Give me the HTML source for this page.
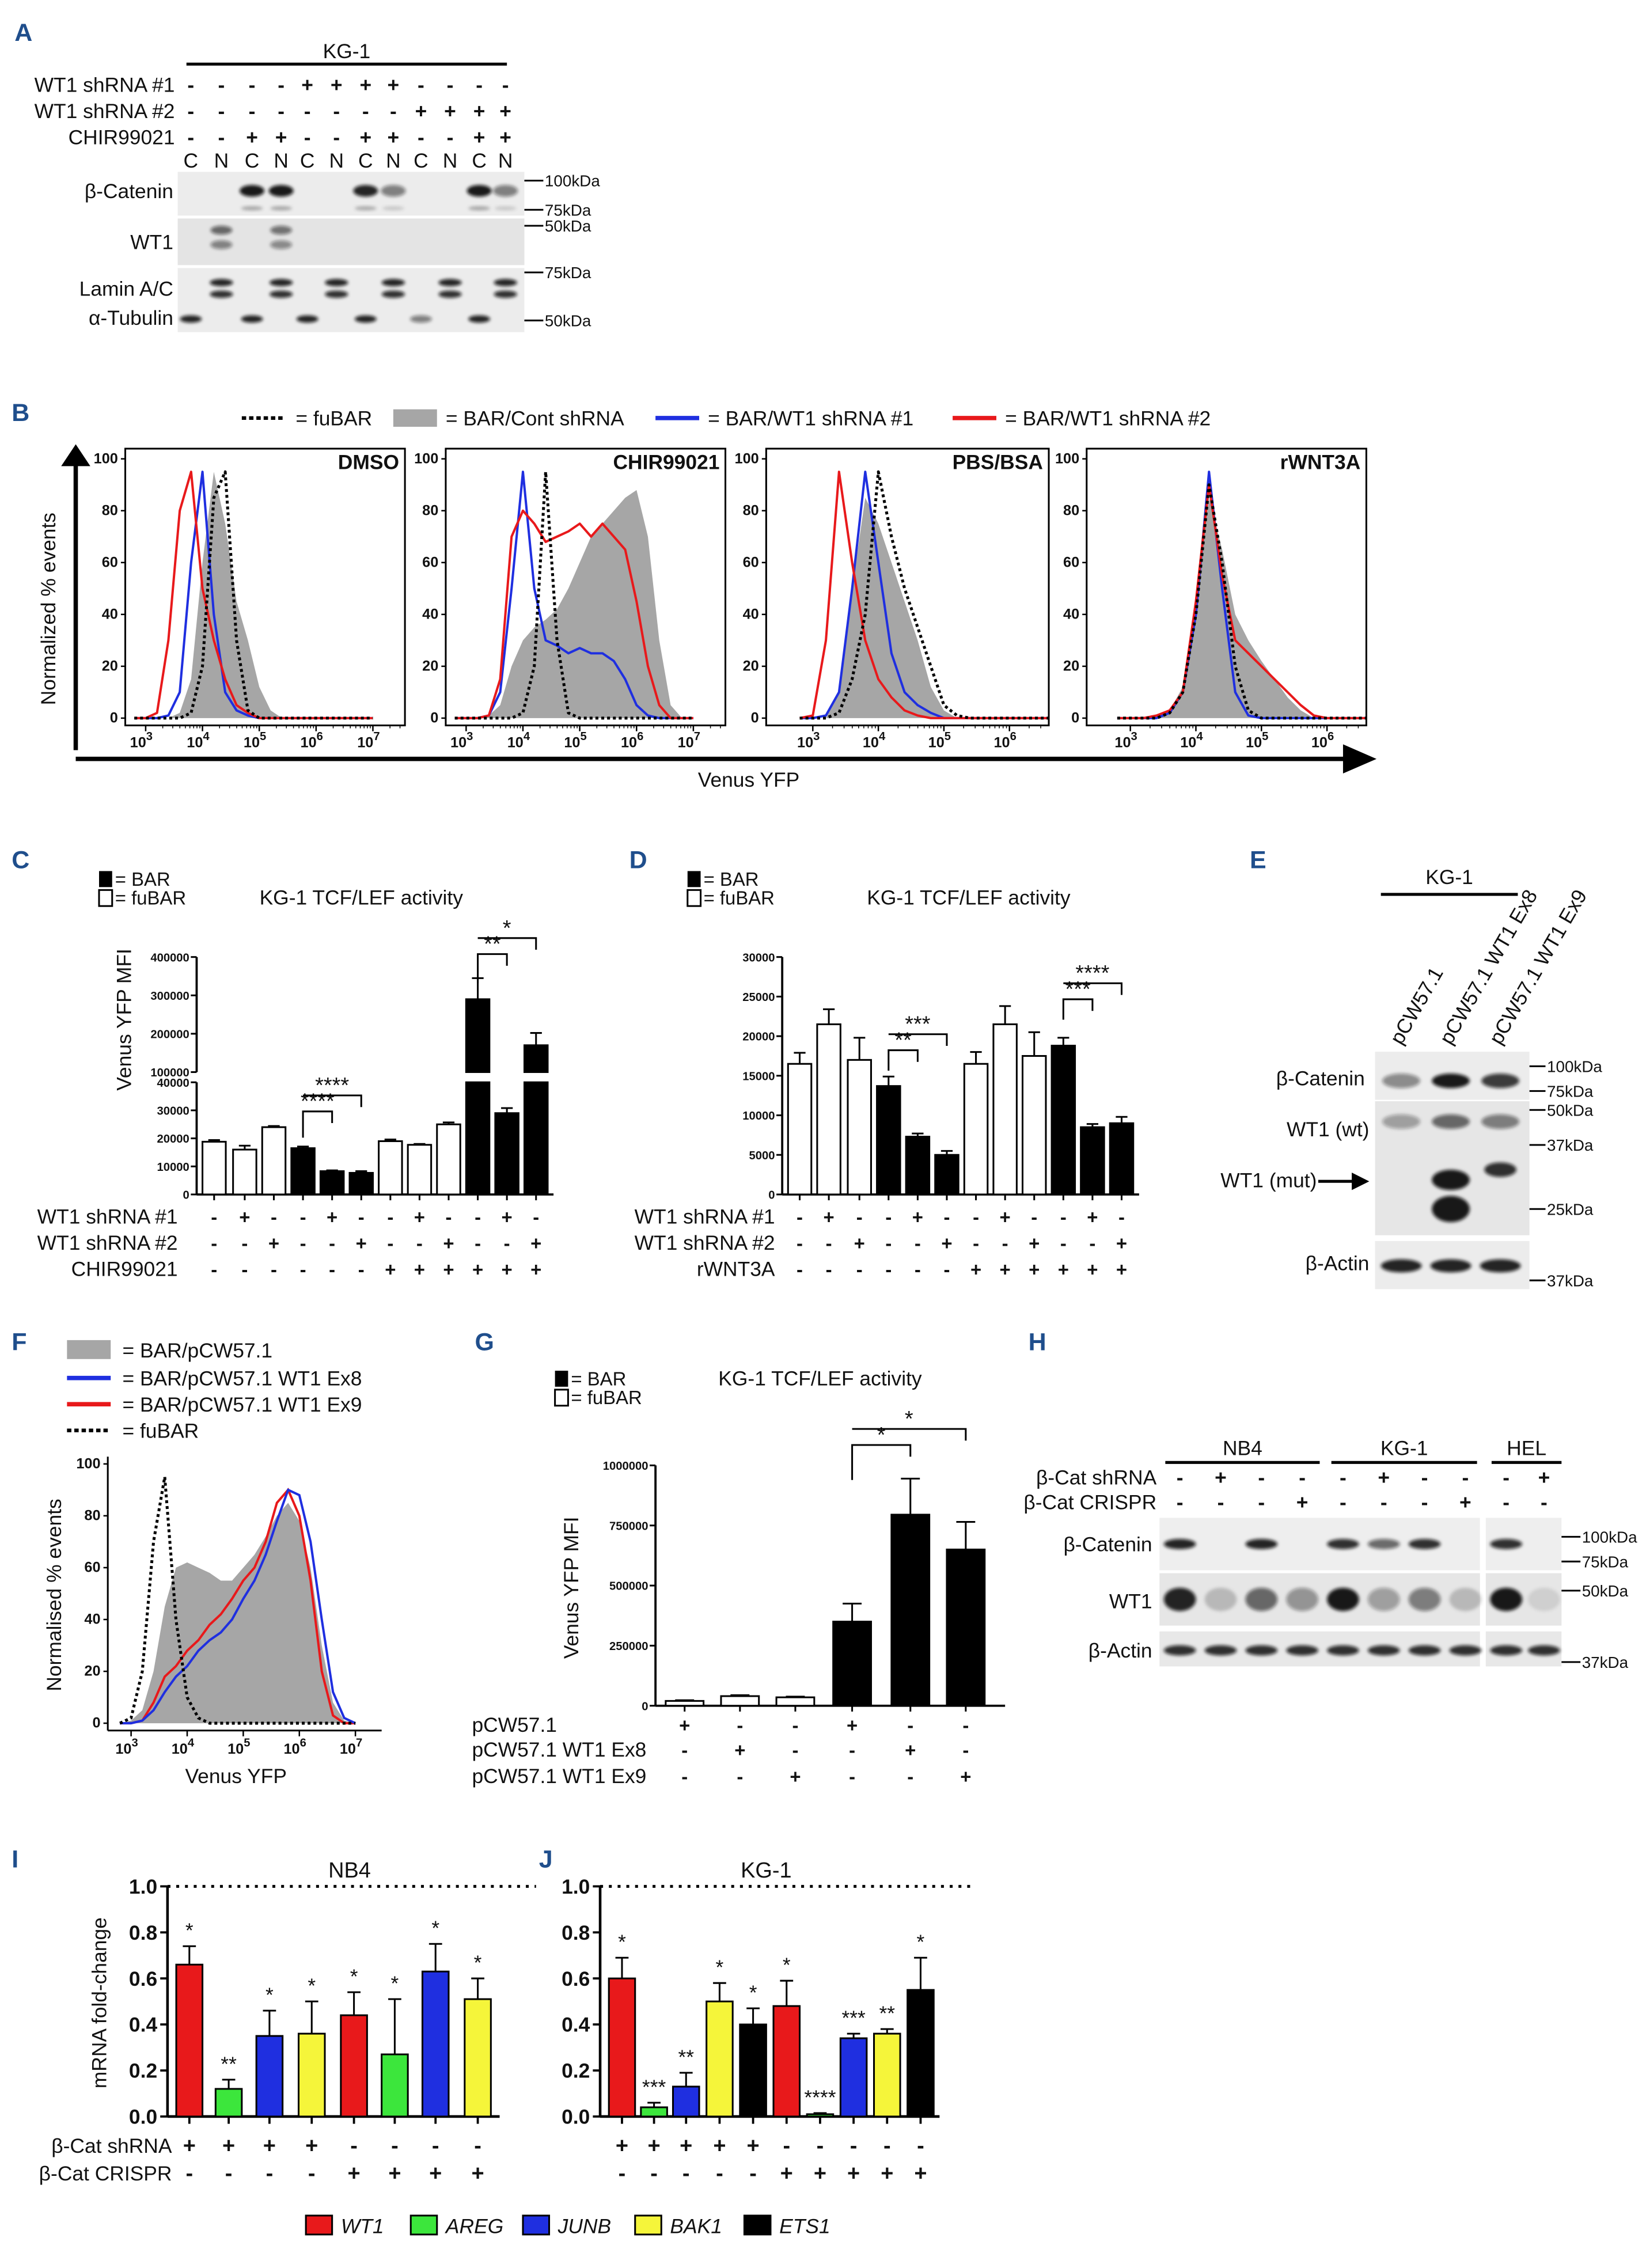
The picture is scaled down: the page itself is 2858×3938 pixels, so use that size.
<!DOCTYPE html>
<html><head><meta charset="utf-8"><style>
html,body{margin:0;padding:0;background:#fff}
svg{display:block}
text{font-family:"Liberation Sans",Arial,sans-serif;fill:#111}
.pl{font-weight:bold;fill:#1f4e8c;font-size:17px}
</style></head><body>
<svg id="fig" xmlns="http://www.w3.org/2000/svg" width="2858" height="3938" viewBox="0 0 1130 1557" preserveAspectRatio="none">
<g id="root"></g>
</svg>
<script>
// ---------- chart data ----------
const cLanesSign1 = ['-','+','-','-','+','-','-','+','-','-','+','-'];
const cLanesSign2 = ['-','-','+','-','-','+','-','-','+','-','-','+'];
const cChir = ['-','-','-','-','-','-','+','+','+','+','+','+'];
const cValues = [18800,16000,24000,16500,8300,7700,19000,17700,25000,290000,29000,170000];
const cErr = [600,1400,400,600,300,600,600,300,700,55000,1800,32000];
const cBlack = [0,0,0,1,1,1,0,0,0,1,1,1];
const cLowTicks = [0,10000,20000,30000,40000];
const cHighTicks = [100000,200000,300000,400000];

const dValues = [16500,21500,17000,13700,7300,5000,16500,21500,17500,18800,8500,9000];
const dErr = [1400,1900,2800,1200,400,500,1500,2300,3000,1000,400,800];
const dBlack = [0,0,0,1,1,1,0,0,0,1,1,1];
const dWnt = ['-','-','-','-','-','-','+','+','+','+','+','+'];
const dTicks = [0,5000,10000,15000,20000,25000,30000];

const gValues = [20000,40000,35000,350000,795000,650000];
const gErr = [3000,4000,3000,75000,150000,115000];
const gBlack = [0,0,0,1,1,1];
const gTicks = [0,250000,500000,750000,1000000];

const iValues = [0.66,0.12,0.35,0.36,0.44,0.27,0.63,0.51];
const iErr = [0.08,0.04,0.11,0.14,0.10,0.24,0.12,0.09];
const iGenes = ['WT1','AREG','JUNB','BAK1','WT1','AREG','JUNB','BAK1'];
const iStars = ['*','**','*','*','*','*','*','*'];
const jValues = [0.60,0.04,0.13,0.50,0.40,0.48,0.01,0.34,0.36,0.55];
const jErr = [0.09,0.02,0.06,0.08,0.07,0.11,0.005,0.02,0.02,0.14];
const jGenes = ['WT1','AREG','JUNB','BAK1','ETS1','WT1','AREG','JUNB','BAK1','ETS1'];
const jStars = ['*','***','**','*','*','*','****','***','**','*'];
const rTicks = [0,0.2,0.4,0.6,0.8,1.0];

// flow histograms: log10 grid and % values
const logGrid = [2.8,3.0,3.2,3.4,3.6,3.8,4.0,4.2,4.4,4.6,4.8,5.0,5.2,5.4,5.6,5.8,6.0,6.2,6.4,6.6,6.8,7.0];
const dmsoFu   = [0,0,0,0,0,2,20,85,95,30,3,0,0,0,0,0,0,0,0,0,0,0];
const dmsoGray = [0,0,0,0,2,15,60,95,75,45,30,12,3,0,0,0,0,0,0,0,0,0];
const dmsoBlue = [0,0,0,1,10,60,95,40,10,3,1,0,0,0,0,0,0,0,0,0,0,0];
const dmsoRed  = [0,0,2,30,80,95,50,30,15,5,2,0,0,0,0,0,0,0,0,0,0,0];
const chirFu   = [0,0,0,0,0,0,2,20,95,30,2,0,0,0,0,0,0,0,0,0,0,0];
const chirGray = [0,0,0,1,5,20,30,35,38,42,50,60,70,75,80,85,88,70,30,5,0,0];
const chirBlue = [0,0,0,1,10,50,95,50,30,28,25,27,25,25,22,15,5,1,0,0,0,0];
const chirRed  = [0,0,0,1,15,70,80,75,68,70,72,75,70,75,70,65,45,20,5,0,0,0];
const pbsFu    = [0,0,0,2,15,40,95,70,50,35,20,5,1,0,0,0,0,0,0,0,0,0];
const pbsGray  = [0,0,0,10,50,85,75,60,45,30,12,3,0,0,0,0,0,0,0,0,0,0];
const pbsBlue  = [0,0,1,10,50,95,60,25,10,5,2,0,0,0,0,0,0,0,0,0,0,0];
const pbsRed   = [0,1,30,95,60,30,15,8,3,1,0,0,0,0,0,0,0,0,0,0,0,0];
const wntFu    = [0,0,0,0,2,10,40,90,60,20,3,0,0,0,0,0,0,0,0,0,0,0];
const wntGray  = [0,0,0,1,3,12,45,85,65,40,30,22,15,8,3,0,0,0,0,0,0,0];
const wntBlue  = [0,0,0,0,2,10,40,95,50,10,1,0,0,0,0,0,0,0,0,0,0,0];
const wntRed   = [0,0,0,1,3,10,45,90,55,30,25,20,15,10,5,1,0,0,0,0,0,0];
const fFu   = [0,2,20,70,95,40,10,2,0,0,0,0,0,0,0,0,0,0,0,0,0,0];
const fGray = [0,1,5,20,45,60,62,60,58,55,55,60,65,72,80,85,78,60,30,8,1,0];
const fBlue = [0,0,1,5,12,18,22,28,32,35,40,48,55,65,78,90,88,70,40,12,2,0];
const fRed  = [0,0,1,8,18,22,28,32,38,42,48,55,60,70,85,90,80,55,20,3,0,0];

// ---------- helpers ----------
const NS='http://www.w3.org/2000/svg';
const root=document.getElementById('root');
function mk(tag, attrs, name, parent){
  const el=document.createElementNS(NS,tag);
  for(const k in attrs) el.setAttribute(k,attrs[k]);
  
  
  (parent||root).appendChild(el);
  return el;
}
function tx(x,y,s,size,name,opts){
  opts=opts||{};
  const a={x:x,y:y,'font-size':size};
  if(opts.anchor) a['text-anchor']=opts.anchor;
  if(opts.weight) a['font-weight']=opts.weight;
  if(opts.style) a['font-style']=opts.style;
  if(opts.fill) a['fill']=opts.fill;
  if(opts.rot!==undefined) a['transform']='rotate('+opts.rot+' '+x+' '+y+')';
  if(opts.cls) a['class']=opts.cls;
  const t=mk('text',a,name);
  t.textContent=s;
  return t;
}
function ln(x1,y1,x2,y2,name,w,col,dash){
  const a={x1:x1,y1:y1,x2:x2,y2:y2,stroke:col||'#000','stroke-width':w||1.2};
  if(dash) a['stroke-dasharray']=dash;
  return mk('line',a,name);
}
function rc(x,y,w,h,fill,name,stroke){
  const a={x:x,y:y,width:w,height:h,fill:fill};
  if(stroke){a.stroke=stroke;a['stroke-width']=1.2;}
  return mk('rect',a,name);
}
function band(cx,cy,w,h,op,name){
  return mk('ellipse',{cx:cx,cy:cy,rx:w/2,ry:h/2,fill:'#111','fill-opacity':op,filter:'url(#blur)'},name);
}
const defs=mk('defs',{},'defs');
const flt=mk('filter',{id:'blur',x:'-50%',y:'-50%',width:'200%',height:'200%'},'blur-filter',defs);
mk('feGaussianBlur',{stdDeviation:'1.2'},'blur',flt);

// ---------- Panel labels ----------
[['A',10,28],['B',8,289],['C',8,596],['D',432,596],['E',858,596],['F',8,927],['G',326,927],['H',706,927],['I',8,1282],['J',370,1282]].forEach(p=>{
  tx(p[1],p[2],p[0],18,'panel-label-'+p[0].toLowerCase(),{cls:'pl'});
});

// ---------- Panel A ----------
tx(238,40,'KG-1',14,'a-kg1-label',{anchor:'middle'});
ln(128,44,348,44,'a-kg1-line',2);
const aLx=[131,152,173,193,211,231,251,270,289,309,329,347];
const aS1=['-','-','-','-','+','+','+','+','-','-','-','-'];
const aS2=['-','-','-','-','-','-','-','-','+','+','+','+'];
const aCh=['-','-','+','+','-','-','+','+','-','-','+','+'];
tx(120,63,'WT1 shRNA #1',14,'a-row-shrna1',{anchor:'end'});
tx(120,81,'WT1 shRNA #2',14,'a-row-shrna2',{anchor:'end'});
tx(120,99,'CHIR99021',14,'a-row-chir',{anchor:'end'});
aLx.forEach((x,i)=>{
  tx(x,63,aS1[i],14,'a-sign',{anchor:'middle',weight:'bold'});
  tx(x,81,aS2[i],14,'a-sign',{anchor:'middle',weight:'bold'});
  tx(x,99,aCh[i],14,'a-sign',{anchor:'middle',weight:'bold'});
  tx(x,115,i%2?'N':'C',14,'a-fraction',{anchor:'middle'});
});
rc(122,118,238,30,'#ececec','a-blot-bcatenin');
rc(122,150,238,32,'#e4e4e4','a-blot-wt1');
rc(122,184,238,44,'#ececec','a-blot-lamin-tubulin');
tx(119,136,'β-Catenin',14,'a-label-bcat',{anchor:'end'});
tx(119,171,'WT1',14,'a-label-wt1',{anchor:'end'});
tx(119,203,'Lamin A/C',14,'a-label-lamin',{anchor:'end'});
tx(119,223,'α-Tubulin',14,'a-label-tubulin',{anchor:'end'});
[[173,0.95],[193,0.95],[251,0.9],[270,0.5],[329,0.95],[347,0.5]].forEach(b=>{band(b[0],131,17,8,b[1],'a-band-bcat');band(b[0],143,15,3,b[1]*0.3,'a-band-bcat-lower');});
[[152,0.6],[193,0.55]].forEach(b=>{band(b[0],158,15,6,b[1],'a-band-wt1');band(b[0],168,15,6,b[1]*0.8,'a-band-wt1');});
[152,193,231,270,309,347].forEach(x=>{band(x,194,16,5,0.9,'a-band-lamin');band(x,202,16,5,0.85,'a-band-lamin');});
[[131,.9],[173,.9],[211,.9],[251,.9],[289,.5],[329,.9]].forEach(b=>band(b[0],219,15,5,b[1],'a-band-tubulin'));
[[124,'100kDa'],[144,'75kDa'],[155,'50kDa'],[187,'75kDa'],[220,'50kDa']].forEach(m=>{
  ln(360,m[0],373,m[0],'a-marker-tick',1.2);
  tx(374,m[0]+4,m[1],11,'a-marker-label');
});

// ---------- Panel B ----------
ln(166,287,196,287,'b-legend-fubar-line',2.5,'#000','3,2');
tx(203,292,'= fuBAR',14,'b-legend-fubar');
rc(270,281,30,12,'#a6a6a6','b-legend-gray-swatch');
tx(306,292,'= BAR/Cont shRNA',14,'b-legend-cont');
ln(450,287,480,287,'b-legend-blue-line',3,'#1f2fe0');
tx(486,292,'= BAR/WT1 shRNA #1',14,'b-legend-shrna1');
ln(654,287,684,287,'b-legend-red-line',3,'#e8191b');
tx(690,292,'= BAR/WT1 shRNA #2',14,'b-legend-shrna2');
ln(52,515,52,318,'b-y-arrow-line',3);
mk('polygon',{points:'42,320 62,320 52,305',fill:'#000'},'b-y-arrowhead');
ln(52,521,928,521,'b-x-arrow-line',3);
mk('polygon',{points:'922,511 922,531 945,521',fill:'#000'},'b-x-arrowhead');
tx(38,418,'Normalized % events',14,'b-y-axis-title',{anchor:'middle',rot:-90});
tx(514,540,'Venus YFP',14,'b-x-axis-title',{anchor:'middle'});

let clipN=0;
function flowPanel(x0,y0,w,h,x3,dec,title,curves,nameP,yticks0,ymax,decades){
  const yb=y0+h-5, yt=y0+7;
  const Y=v=>yb-v/100*(yb-yt);
  const X=l=>x3+(l-3)*dec;
  clipN++;
  const cp=mk('clipPath',{id:'clip'+clipN},nameP+'-clip',defs);
  mk('rect',{x:x0,y:y0,width:w,height:h},nameP+'-clip-rect',cp);
  const g=mk('g',{'clip-path':'url(#clip'+clipN+')'},nameP+'-plot-area');
  curves.forEach(c=>{
    let d='';
    c.data.forEach((v,i)=>{d+=(i?'L':'M')+X(logGrid[i]).toFixed(1)+','+Y(v).toFixed(1);});
    if(c.fill){
      d+='L'+X(logGrid[logGrid.length-1])+','+Y(0)+'L'+X(logGrid[0])+','+Y(0)+'Z';
      mk('path',{d:d,fill:'#a6a6a6',stroke:'none'},nameP+'-'+c.name,g);
    } else {
      const a={d:d,fill:'none',stroke:c.col,'stroke-width':c.dash?2:1.6,'stroke-linejoin':'round'};
      if(c.dash) a['stroke-dasharray']='2,2';
      mk('path',a,nameP+'-'+c.name,g);
    }
  });
  rc(x0,y0,w,h,'none',nameP+'-frame','#000');
  [0,20,40,60,80,100].forEach(t=>{
    ln(x0-3,Y(t),x0,Y(t),nameP+'-ytick',1);
    tx(x0-5,Y(t)+3,String(t),10,nameP+'-ytick-label',{anchor:'end',weight:'bold'});
  });
  (decades||[3,4,5,6,7]).forEach(d=>{
    ln(X(d),y0+h,X(d),y0+h+4,nameP+'-xtick',1);
    const t=tx(X(d)-3,y0+h+15,'10',10,nameP+'-xtick-label',{anchor:'middle',weight:'bold'});
    const s=document.createElementNS(NS,'tspan');s.setAttribute('dy','-5');s.setAttribute('font-size','8');s.textContent=String(d);t.appendChild(s);
    for(let k=2;k<10;k++){const xx=X(d+Math.log10(k)); if(xx<x0+w) ln(xx,y0+h,xx,y0+h+2,nameP+'-minor-tick',0.6);}
  });
  if(title) tx(x0+w-4,y0+14,title,14,nameP+'-title',{anchor:'end',weight:'bold'});
}
function cset(g,b,r,f){return [{data:g,fill:1,name:'bar-cont-shrna'},{data:b,col:'#1f2fe0',name:'bar-shrna1-curve'},{data:r,col:'#e8191b',name:'bar-shrna2-curve'},{data:f,col:'#000',dash:1,name:'fubar-curve'}];}
flowPanel(86,308,192,190,100,39,'DMSO',cset(dmsoGray,dmsoBlue,dmsoRed,dmsoFu),'b-dmso');
flowPanel(306,308,192,190,320,39,'CHIR99021',cset(chirGray,chirBlue,chirRed,chirFu),'b-chir');
flowPanel(526,308,194,190,558,45,'PBS/BSA',cset(pbsGray,pbsBlue,pbsRed,pbsFu),'b-pbs',null,null,[3,4,5,6]);
flowPanel(746,308,192,190,776,45,'rWNT3A',cset(wntGray,wntBlue,wntRed,wntFu),'b-wnt',null,null,[3,4,5,6]);

// ---------- Bar chart helper ----------
function legendBF(x,y,p){
  rc(x,y-10,9,11,'#000',p+'-legend-bar-swatch');
  tx(x+11,y,'= BAR',13,p+'-legend-bar');
  rc(x,y+3,9,11,'#fff',p+'-legend-fubar-swatch','#000');
  tx(x+11,y+13,'= fuBAR',13,p+'-legend-fubar');
}
function bars(xs,vals,errs,black,Y,y0,w,p,colors){
  vals.forEach((v,i)=>{
    const yt=Y(v);
    const fill=colors?colors[i]:(black[i]?'#000':'#fff');
    rc(xs[i]-w/2,yt,w,y0-yt,fill,p+'-bar-'+(i+1),'#000');
    const ye=Y(v+errs[i]);
    ln(xs[i],yt,xs[i],ye,p+'-error-bar',1.2);
    ln(xs[i]-w/4,ye,xs[i]+w/4,ye,p+'-error-cap',1.2);
  });
}
function bracket(x1,x2,y,drop,label,p){
  mk('path',{d:'M'+x1+','+(y+drop)+'V'+y+'H'+x2+'V'+(y+8),fill:'none',stroke:'#000','stroke-width':1.2},p+'-sig-bracket');
  tx((x1+x2)/2,y-2,label,15,p+'-sig-label',{anchor:'middle'});
}

// ---------- Panel C ----------
legendBF(68,608,'c');
tx(248,621,'KG-1 TCF/LEF activity',14,'c-title',{anchor:'middle'});
const cX=[147,168,188,208,228,248,268,288,308,328,348,368];
const cLow=v=>820-Math.min(v,40000)/40000*77;
const cHigh=v=>736-(v-100000)/300000*79;
ln(135,743,135,820,'c-y-axis-lower',1.5);ln(135,657,135,736,'c-y-axis-upper',1.5);
ln(135,820,380,820,'c-x-axis',1.5);
cLowTicks.forEach(t=>{ln(131,cLow(t),135,cLow(t),'c-ytick',1.2);tx(130,cLow(t)+3,String(t),8,'c-ytick-label',{anchor:'end',weight:'bold'});});
cHighTicks.forEach(t=>{ln(131,cHigh(t),135,cHigh(t),'c-ytick',1.2);tx(130,cHigh(t)+3,String(t),8,'c-ytick-label',{anchor:'end',weight:'bold'});});
tx(90,700,'Venus YFP MFI',14,'c-y-axis-title',{anchor:'middle',rot:-90});
cValues.forEach((v,i)=>{
  const fill=cBlack[i]?'#000':'#fff';
  if(v<=40000){
    rc(cX[i]-8,cLow(v),16,820-cLow(v),fill,'c-bar-'+(i+1),'#000');
    ln(cX[i],cLow(v),cX[i],cLow(v+cErr[i]),'c-error-bar',1.2);
    ln(cX[i]-4,cLow(v+cErr[i]),cX[i]+4,cLow(v+cErr[i]),'c-error-cap',1.2);
  } else {
    rc(cX[i]-8,743,16,77,fill,'c-bar-'+(i+1)+'-lower','#000');
    rc(cX[i]-8,cHigh(v),16,736-cHigh(v),fill,'c-bar-'+(i+1)+'-upper','#000');
    ln(cX[i],cHigh(v),cX[i],cHigh(v+cErr[i]),'c-error-bar',1.2);
    ln(cX[i]-4,cHigh(v+cErr[i]),cX[i]+4,cHigh(v+cErr[i]),'c-error-cap',1.2);
  }
  ln(cX[i],820,cX[i],824,'c-xtick',1.2);
  tx(cX[i],840,cLanesSign1[i],13,'c-sign',{anchor:'middle',weight:'bold'});
  tx(cX[i],858,cLanesSign2[i],13,'c-sign',{anchor:'middle',weight:'bold'});
  tx(cX[i],876,cChir[i],13,'c-sign',{anchor:'middle',weight:'bold'});
});
tx(122,840,'WT1 shRNA #1',14,'c-row-shrna1',{anchor:'end'});
tx(122,858,'WT1 shRNA #2',14,'c-row-shrna2',{anchor:'end'});
tx(122,876,'CHIR99021',14,'c-row-chir',{anchor:'end'});
bracket(208,228,763,18,'****','c');bracket(208,248,752,0,'****','c');
bracket(328,348,655,20,'**','c');bracket(328,368,644,0,'*','c');

// ---------- Panel D ----------
legendBF(472,608,'d');
tx(665,621,'KG-1 TCF/LEF activity',14,'d-title',{anchor:'middle'});
const dX=[549,569,590,610,630,650,670,690,710,730,750,770];
const dY=v=>820-v/30000*163;
ln(537,657,537,820,'d-y-axis',1.5);ln(537,820,782,820,'d-x-axis',1.5);
dTicks.forEach(t=>{ln(533,dY(t),537,dY(t),'d-ytick',1.2);tx(532,dY(t)+3,String(t),8,'d-ytick-label',{anchor:'end',weight:'bold'});});
bars(dX,dValues,dErr,dBlack,dY,820,16,'d');
dX.forEach((x,i)=>{
  ln(x,820,x,824,'d-xtick',1.2);
  tx(x,840,cLanesSign1[i],13,'d-sign',{anchor:'middle',weight:'bold'});
  tx(x,858,cLanesSign2[i],13,'d-sign',{anchor:'middle',weight:'bold'});
  tx(x,876,dWnt[i],13,'d-sign',{anchor:'middle',weight:'bold'});
});
tx(532,840,'WT1 shRNA #1',14,'d-row-shrna1',{anchor:'end'});
tx(532,858,'WT1 shRNA #2',14,'d-row-shrna2',{anchor:'end'});
tx(532,876,'rWNT3A',14,'d-row-wnt',{anchor:'end'});
bracket(610,630,721,14,'**','d');bracket(610,650,710,0,'***','d');
bracket(730,750,686,14,'***','d');bracket(730,770,675,0,'****','d');

// ---------- Panel E ----------
tx(995,607,'KG-1',14,'e-kg1-label',{anchor:'middle'});
ln(948,614,1042,614,'e-kg1-line',2);
[['pCW57.1',962],['pCW57.1 WT1 Ex8',996],['pCW57.1 WT1 Ex9',1030]].forEach(l=>tx(l[1],718,l[0],14,'e-lane-label',{rot:-60}));
rc(944,722,106,33,'#ececec','e-blot-bcat');
rc(944,756,106,92,'#e6e6e6','e-blot-wt1');
rc(944,852,106,33,'#ececec','e-blot-actin');
[[962,.45],[996,.95],[1030,.8]].forEach(b=>band(b[0],742,26,10,b[1],'e-band-bcat'));
[[962,.35],[996,.6],[1030,.5]].forEach(b=>band(b[0],770,26,10,b[1],'e-band-wt1-wt'));
band(996,810,26,14,.95,'e-band-wt1-mut');band(996,830,26,18,.95,'e-band-wt1-mut');band(1030,803,22,10,.85,'e-band-wt1-mut');
[962,996,1030].forEach(x=>band(x,869,28,9,.9,'e-band-actin'));
tx(937,745,'β-Catenin',14,'e-label-bcat',{anchor:'end'});
tx(940,780,'WT1 (wt)',14,'e-label-wt1-wt',{anchor:'end'});
tx(904,815,'WT1 (mut)',14,'e-label-wt1-mut',{anchor:'end'});
ln(905,811,930,811,'e-arrow-line',2);mk('polygon',{points:'928,805 928,817 940,811',fill:'#000'},'e-arrowhead');
tx(940,872,'β-Actin',14,'e-label-actin',{anchor:'end'});
[[732,'100kDa'],[749,'75kDa'],[762,'50kDa'],[786,'37kDa'],[830,'25kDa'],[879,'37kDa']].forEach(m=>{ln(1050,m[0],1061,m[0],'e-marker-tick',1.2);tx(1062,m[0]+4,m[1],11,'e-marker-label');});

// ---------- Panel F ----------
rc(46,920,30,13,'#a6a6a6','f-legend-gray-swatch');tx(84,932,'= BAR/pCW57.1',14,'f-legend-bar');
ln(46,946,76,946,'f-legend-blue',3,'#1f2fe0');tx(84,951,'= BAR/pCW57.1 WT1 Ex8',14,'f-legend-ex8');
ln(46,964,76,964,'f-legend-red',3,'#e8191b');tx(84,969,'= BAR/pCW57.1 WT1 Ex9',14,'f-legend-ex9');
ln(46,982,76,982,'f-legend-fubar',2.5,'#000','3,2');tx(84,987,'= fuBAR',14,'f-legend-fubar-label');
(function(){
  const x0=74,y0=1000,h=188,x3=90,dec=38.5;
  const Y=v=>1183-v/100*178, X=l=>x3+(l-3)*dec;
  ln(x0,y0,x0,y0+h,'f-y-axis',1.2);ln(x0,y0+h,262,y0+h,'f-x-axis',1.2);
  [0,20,40,60,80,100].forEach(t=>{ln(x0-3,Y(t),x0,Y(t),'f-ytick',1);tx(x0-5,Y(t)+3,String(t),10,'f-ytick-label',{anchor:'end',weight:'bold'});});
  [3,4,5,6,7].forEach(d=>{ln(X(d),y0+h,X(d),y0+h+4,'f-xtick',1);const t=tx(X(d)-3,y0+h+16,'10',10,'f-xtick-label',{anchor:'middle',weight:'bold'});const s=document.createElementNS(NS,'tspan');s.setAttribute('dy','-5');s.setAttribute('font-size','8');s.textContent=String(d);t.appendChild(s);});
  const cs=[{data:fGray,fill:1,name:'bar-pcw-fill'},{data:fRed,col:'#e8191b',name:'ex9-curve'},{data:fBlue,col:'#1f2fe0',name:'ex8-curve'},{data:fFu,col:'#000',dash:1,name:'fubar-curve'}];
  cs.forEach(c=>{let d='';c.data.forEach((v,i)=>{d+=(i?'L':'M')+X(logGrid[i]).toFixed(1)+','+Y(v).toFixed(1);});
    if(c.fill){d+='L'+X(7)+','+Y(0)+'L'+X(2.8)+','+Y(0)+'Z';mk('path',{d:d,fill:'#a6a6a6'},'f-'+c.name);}
    else{const a={d:d,fill:'none',stroke:c.col,'stroke-width':c.dash?2:1.6};if(c.dash)a['stroke-dasharray']='2,2';mk('path',a,'f-'+c.name);}});
  tx(42,1095,'Normalised % events',14,'f-y-axis-title',{anchor:'middle',rot:-90});
  tx(162,1224,'Venus YFP',14,'f-x-axis-title',{anchor:'middle'});
})();

// ---------- Panel G ----------
(function(){
  rc(381,941,9,11,'#000','g-legend-bar-swatch');tx(392,951,'= BAR',13,'g-legend-bar');
  rc(381,954,9,11,'#fff','g-legend-fubar-swatch','#000');tx(392,964,'= fuBAR',13,'g-legend-fubar');
  tx(563,951,'KG-1 TCF/LEF activity',14,'g-title',{anchor:'middle'});
  const gX=[470,508,546,585,625,663];
  const Y=v=>1171-v/1000000*165;
  ln(450,1006,450,1171,'g-y-axis',1.5);ln(450,1171,690,1171,'g-x-axis',1.5);
  gTicks.forEach(t=>{ln(446,Y(t),450,Y(t),'g-ytick',1.2);tx(445,Y(t)+3,String(t),8,'g-ytick-label',{anchor:'end',weight:'bold'});});
  tx(397,1090,'Venus YFP MFI',14,'g-y-axis-title',{anchor:'middle',rot:-90});
  bars(gX,gValues,gErr,gBlack,Y,1171,26,'g');
  const s1=['+','-','-','+','-','-'],s2=['-','+','-','-','+','-'],s3=['-','-','+','-','-','+'];
  gX.forEach((x,i)=>{ln(x,1171,x,1175,'g-xtick',1.2);
    tx(x,1189,s1[i],13,'g-sign',{anchor:'middle',weight:'bold'});tx(x,1206,s2[i],13,'g-sign',{anchor:'middle',weight:'bold'});tx(x,1224,s3[i],13,'g-sign',{anchor:'middle',weight:'bold'});});
  tx(324,1189,'pCW57.1',14,'g-row-pcw');tx(324,1206,'pCW57.1 WT1 Ex8',14,'g-row-ex8');tx(324,1224,'pCW57.1 WT1 Ex9',14,'g-row-ex9');
  bracket(585,625,992,24,'*','g');bracket(585,663,981,0,'*','g');
})();

// ---------- Panel H ----------
(function(){
  tx(853,999,'NB4',14,'h-nb4-label',{anchor:'middle'});ln(800,1004,906,1004,'h-nb4-line',2);
  tx(964,999,'KG-1',14,'h-kg1-label',{anchor:'middle'});ln(914,1004,1014,1004,'h-kg1-line',2);
  tx(1048,999,'HEL',14,'h-hel-label',{anchor:'middle'});ln(1024,1004,1072,1004,'h-hel-line',2);
  const hx=[810,838,866,894,922,950,978,1006,1034,1060];
  const sh=['-','+','-','-','-','+','-','-','-','+'],cr=['-','-','-','+','-','-','-','+','-','-'];
  tx(794,1019,'β-Cat shRNA',14,'h-row-shrna',{anchor:'end'});tx(794,1036,'β-Cat CRISPR',14,'h-row-crispr',{anchor:'end'});
  hx.forEach((x,i)=>{tx(x,1019,sh[i],14,'h-sign',{anchor:'middle',weight:'bold'});tx(x,1036,cr[i],14,'h-sign',{anchor:'middle',weight:'bold'});});
  rc(796,1042,220,36,'#eeeeee','h-blot-bcat');rc(1020,1042,52,36,'#eeeeee','h-blot-bcat-hel');
  rc(796,1080,220,36,'#e6e6e6','h-blot-wt1');rc(1020,1080,52,36,'#e6e6e6','h-blot-wt1-hel');
  rc(796,1120,220,24,'#e8e8e8','h-blot-actin');rc(1020,1120,52,24,'#e8e8e8','h-blot-actin-hel');
  [[810,.9],[866,.9],[922,.85],[950,.6],[978,.85],[1034,.85]].forEach(b=>band(b[0],1060,22,7,b[1],'h-band-bcat'));
  [[810,.9],[838,.2],[866,.6],[894,.4],[922,.95],[950,.35],[978,.5],[1006,.2],[1034,.95],[1060,.1]].forEach(b=>band(b[0],1098,22,16,b[1],'h-band-wt1'));
  hx.forEach(x=>band(x,1133,22,7,.85,'h-band-actin'));
  tx(791,1065,'β-Catenin',14,'h-label-bcat',{anchor:'end'});tx(791,1104,'WT1',14,'h-label-wt1',{anchor:'end'});tx(791,1138,'β-Actin',14,'h-label-actin',{anchor:'end'});
  [[1055,'100kDa'],[1072,'75kDa'],[1092,'50kDa'],[1141,'37kDa']].forEach(m=>{ln(1072,m[0],1085,m[0],'h-marker-tick',1.2);tx(1086,m[0]+4,m[1],11,'h-marker-label');});
})();

// ---------- Panels I & J ----------
const geneColor={WT1:'#e8191b',AREG:'#3ce63c',JUNB:'#1f2fe0',BAK1:'#f5f53a',ETS1:'#000'};
function rna(p,xs,vals,errs,genes,stars,axX,axEnd,title,titleX,sh,cr){
  const Y=v=>1453-v*158;
  ln(axX,1295,axX,1453,p+'-y-axis',1.8);ln(axX,1453,axEnd,1453,p+'-x-axis',1.8);
  ln(axX,1295,axEnd+25,1295,p+'-reference-line',2,'#000','2,4');
  rTicks.forEach(t=>{ln(axX-5,Y(t),axX,Y(t),p+'-ytick',1.5);tx(axX-7,Y(t)+5,t.toFixed(1),14,p+'-ytick-label',{anchor:'end',weight:'bold'});});
  tx(titleX,1289,title,15,p+'-title',{anchor:'middle'});
  bars(xs,vals,errs,null,Y,1453,18,p,genes.map(g=>geneColor[g]));
  xs.forEach((x,i)=>{
    tx(x,Y(vals[i]+errs[i])-6,stars[i],14,p+'-star',{anchor:'middle'});
    ln(x,1453,x,1458,p+'-xtick',1.5);
    tx(x,1478,sh[i],15,p+'-sign',{anchor:'middle',weight:'bold'});
    tx(x,1497,cr[i],15,p+'-sign',{anchor:'middle',weight:'bold'});
  });
}
rna('i',[130,157,185,214,243,271,299,328],iValues,iErr,iGenes,iStars,115,343,'NB4',240,['+','+','+','+','-','-','-','-'],['-','-','-','-','+','+','+','+']);
tx(118,1478,'β-Cat shRNA',14,'i-row-shrna',{anchor:'end'});tx(118,1497,'β-Cat CRISPR',14,'i-row-crispr',{anchor:'end'});
tx(73,1375,'mRNA fold-change',14,'i-y-axis-title',{anchor:'middle',rot:-90});
rna('j',[427,449,471,494,517,540,563,586,609,632],jValues,jErr,jGenes,jStars,412,645,'KG-1',526,['+','+','+','+','+','-','-','-','-','-'],['-','-','-','-','-','+','+','+','+','+']);
[['WT1',210],['AREG',282],['JUNB',359],['BAK1',436],['ETS1',511]].forEach(g=>{
  rc(g[1],1521,18,13,geneColor[g[0]],'legend-swatch-'+g[0].toLowerCase(),'#000');
  tx(g[1]+24,1533,g[0],14,'legend-entry-'+g[0].toLowerCase(),{style:'italic'});
});
</script>
</body></html>
